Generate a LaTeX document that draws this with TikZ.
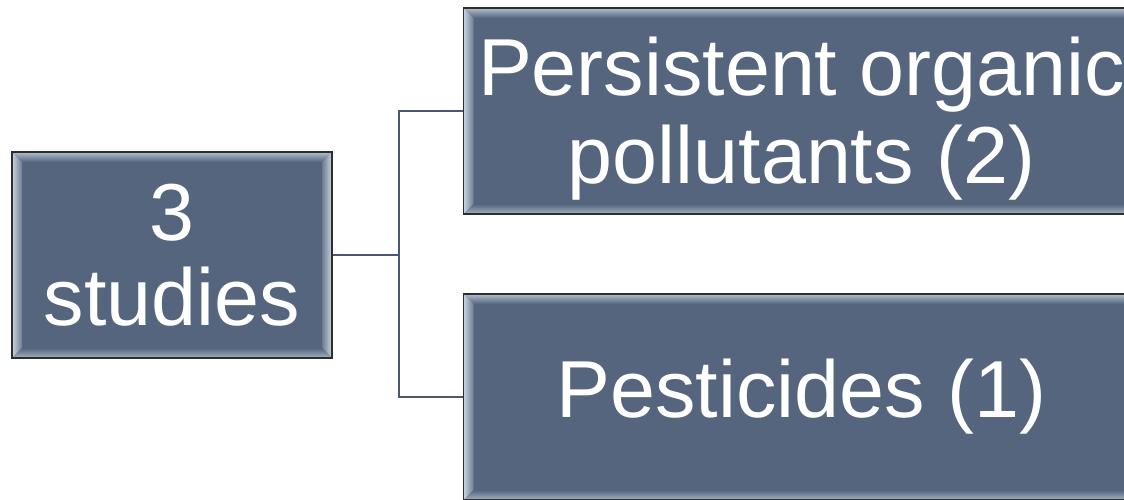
\documentclass[tikz,border=0pt]{standalone}
\usepackage{fontspec}
\setmainfont{Liberation Sans}
\usetikzlibrary{positioning}

\definecolor{boxfill}{RGB}{84,101,125}
\definecolor{boxedge}{RGB}{45,45,45}
\definecolor{bevellight}{RGB}{200,212,226}
\definecolor{wirecol}{RGB}{72,88,110}

\tikzset{
  bevelbox/.style={draw=boxedge, line width=1.1pt, fill=boxfill, text=white,
    align=center, inner sep=0pt, font=\fontsize{57.5}{60}\selectfont,
    path picture={
      \coordinate (bsw) at (path picture bounding box.south west);
      \coordinate (bnw) at (path picture bounding box.north west);
      \coordinate (bne) at (path picture bounding box.north east);
      \coordinate (bse) at (path picture bounding box.south east);
      \shade[left color=bevellight, right color=boxfill!85!white]
        (bsw) -- (bnw) -- ([shift={(0.25,-0.25)}]bnw) -- ([shift={(0.25,0.25)}]bsw) -- cycle;
      \shade[top color=bevellight!80!boxfill, bottom color=boxfill]
        (bnw) -- (bne) -- ([shift={(-0.25,-0.25)}]bne) -- ([shift={(0.25,-0.25)}]bnw) -- cycle;
      \shade[right color=bevellight, left color=boxfill!85!white]
        (bne) -- (bse) -- ([shift={(-0.25,0.25)}]bse) -- ([shift={(-0.25,-0.25)}]bne) -- cycle;
      \shade[bottom color=bevellight!70!boxfill, top color=boxfill]
        (bsw) -- (bse) -- ([shift={(-0.25,0.25)}]bse) -- ([shift={(0.25,0.25)}]bsw) -- cycle;
    }},
  wire/.style={draw=wirecol, line width=1.5pt},
}

\begin{document}
\begin{tikzpicture}
    \useasboundingbox (0,0) rectangle (28.1,-12.5);

    % Boxes
    \node[bevelbox, minimum width=8cm, minimum height=5.15cm] (studies) at (4.3,-6.375) {3\\studies};
    \node[bevelbox, minimum width=16.9cm, minimum height=5.15cm, right=3.25cm of studies, yshift=3.6cm,
      font=\fontsize{57.5}{63}\selectfont] (pop) {\rule{0pt}{1.85cm}Persistent organic\\pollutants (2)};
    \node[bevelbox, minimum width=16.9cm, minimum height=5.15cm, right=3.25cm of studies, yshift=-3.55cm] (pest) {Pesticides (1)};

    % Connectors
    \coordinate (fork) at ([xshift=1.65cm]studies.east);
    \draw[wire] (studies.east) -- (fork) |- (pop.west);
    \draw[wire] (fork) |- (pest.west);
\end{tikzpicture}
\end{document}
